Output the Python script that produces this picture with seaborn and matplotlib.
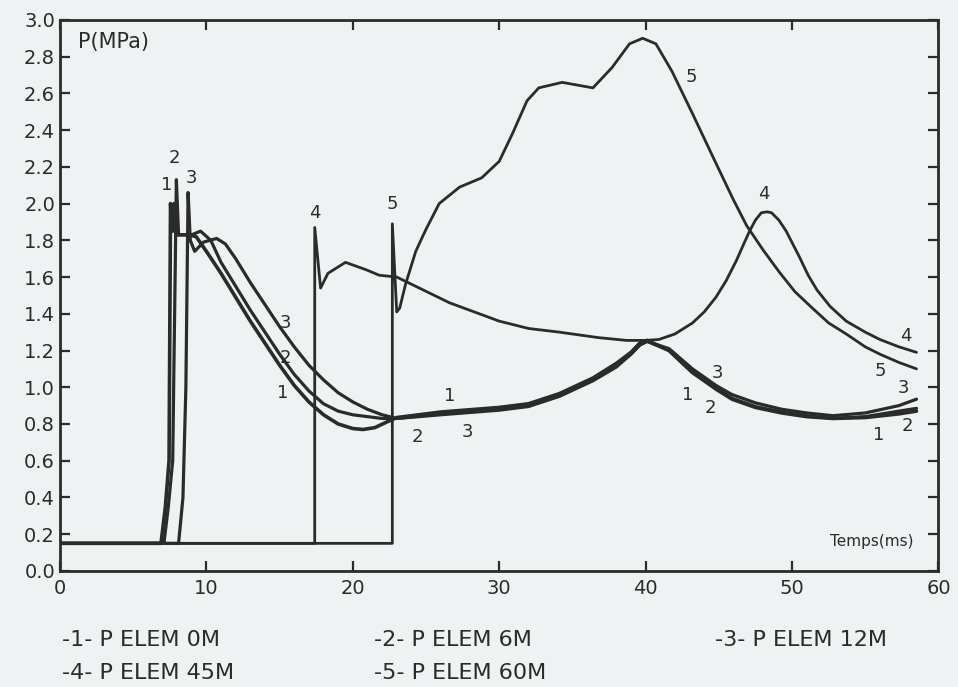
import pandas as pd
import seaborn as sns
import matplotlib.pyplot as plt

# courbes de pression (temps en ms, P en MPa)
t1 = [0, 6.9, 7.2, 7.45, 7.55, 7.7, 7.8, 7.95, 8.8, 9.3, 10, 11, 12, 13, 14, 15, 16, 17, 18, 19, 20,
      20.7, 21.5, 22.3, 23, 26, 30, 32, 34.1, 36.4, 38, 39, 39.6, 40.1, 41.6, 43.2, 44.8, 45.9, 47.5, 49.3,
      51, 52.8, 55, 57.3, 58.5]
p1 = [0.15, 0.15, 0.35, 0.6, 2.0, 1.85, 2.0, 1.83, 1.83, 1.82, 1.74, 1.62, 1.49, 1.36, 1.24, 1.12, 1.01, 0.92, 0.85, 0.80, 0.775,
      0.77, 0.78, 0.81, 0.835, 0.865, 0.89, 0.91, 0.965, 1.05, 1.13, 1.19, 1.24, 1.255, 1.2, 1.08, 0.99, 0.935, 0.89, 0.86,
      0.84, 0.83, 0.835, 0.855, 0.87]

t2 = [0, 7.1, 7.4, 7.7, 7.95, 8.1, 9.0, 9.6, 10.3, 11, 12, 13, 14, 15, 16, 17, 18, 19, 20, 21, 22,
      23, 26, 30, 32, 34.1, 36.4, 38, 39, 39.6, 40.1, 41.6, 43.2, 44.8, 45.9, 47.5, 49.3, 51, 52.8, 55, 57.3, 58.5]
p2 = [0.15, 0.15, 0.35, 0.6, 2.13, 1.83, 1.83, 1.85, 1.80, 1.68, 1.55, 1.42, 1.30, 1.18, 1.07, 0.98, 0.91, 0.87, 0.85, 0.84, 0.83,
      0.83, 0.855, 0.88, 0.9, 0.955, 1.04, 1.12, 1.18, 1.23, 1.25, 1.2, 1.08, 0.995, 0.94, 0.895, 0.865, 0.845, 0.83, 0.84, 0.87, 0.885]

t3 = [0, 8.1, 8.4, 8.6, 8.75, 8.9, 9.2, 9.8, 10.7, 11.3, 12, 13, 14, 15, 16, 17, 18, 19, 20, 21, 22,
      23, 26, 30, 32, 34.1, 36.4, 38, 39, 39.6, 40.1, 41.6, 43.2, 44.8, 45.9, 47.5, 49.3, 51, 52.8, 55, 57.3, 58.5]
p3 = [0.15, 0.15, 0.4, 1.0, 2.06, 1.8, 1.74, 1.79, 1.81, 1.78, 1.70, 1.57, 1.45, 1.33, 1.22, 1.12, 1.04, 0.97, 0.92, 0.88, 0.85,
      0.83, 0.85, 0.875, 0.895, 0.95, 1.035, 1.11, 1.18, 1.23, 1.25, 1.21, 1.1, 1.01, 0.96, 0.915, 0.88, 0.86, 0.845, 0.86, 0.9, 0.935]

t4 = [0, 17.4, 17.4, 17.8, 18.3, 19.5, 20.9, 21.8, 23.0, 23.9, 26.6, 30, 32, 34.1, 36.8, 38.7, 40, 40.9, 42, 43.2,
      44, 44.8, 45.5, 46.2, 46.7, 47.1, 47.5, 47.9, 48.3, 48.6, 49.1, 49.6, 50.5, 51.1, 51.7, 52.6, 53.7, 55, 56, 57.3, 58.5]
p4 = [0.15, 0.15, 1.87, 1.54, 1.62, 1.68, 1.64, 1.61, 1.60, 1.565, 1.46, 1.36, 1.32, 1.30, 1.27, 1.255, 1.255, 1.26, 1.29, 1.35,
      1.41, 1.49, 1.58, 1.69, 1.78, 1.85, 1.91, 1.95, 1.955, 1.95, 1.91, 1.85, 1.71, 1.61, 1.53, 1.44, 1.36, 1.30, 1.26, 1.22, 1.19]

t5 = [0, 22.7, 22.7, 23.0, 23.2, 23.6, 24.3, 25.0, 25.9, 27.3, 28.8, 30, 30.9, 31.9, 32.7, 34.3, 36.4, 37.7, 38.9, 39.8,
      40.7, 41.8, 43.2, 44.8, 46.0, 46.9, 48, 49.1, 50.2, 51.4, 52.5, 53.7, 55, 56, 57.3, 58.5]
p5 = [0.15, 0.15, 1.89, 1.41, 1.43, 1.56, 1.74, 1.86, 2.0, 2.09, 2.14, 2.23, 2.38, 2.56, 2.63, 2.66, 2.63, 2.74, 2.87, 2.90,
      2.87, 2.72, 2.49, 2.22, 2.02, 1.88, 1.75, 1.63, 1.52, 1.43, 1.35, 1.29, 1.22, 1.18, 1.135, 1.10]

# étiquettes des courbes sur le graphique
lab_txt = ["1", "2", "3", "4", "5", "3", "2", "1", "1", "2", "3", "5", "4",
           "3", "1", "2", "4", "5", "3", "2", "1"]
lab_x = [7.3, 7.8, 9.0, 17.4, 22.7, 15.4, 15.4, 15.2, 26.6, 24.4, 27.8, 43.1, 48.1,
         44.9, 42.9, 44.4, 57.8, 56.0, 57.6, 57.9, 55.9]
lab_y = [2.10, 2.25, 2.14, 1.95, 2.00, 1.35, 1.16, 0.97, 0.95, 0.73, 0.755, 2.69, 2.05,
         1.08, 0.96, 0.885, 1.28, 1.09, 0.995, 0.79, 0.74]

legende = ["-1- P ELEM 0M", "-2- P ELEM 6M", "-3- P ELEM 12M",
           "-4- P ELEM 45M", "-5- P ELEM 60M"]

sns.set_style("ticks")
plt.rcParams['font.family'] = ['DejaVu Sans']
ink = "#2b2b2b"
bg = "#eff2f3"

fig = plt.figure(figsize=(9.58, 6.87), dpi=100, facecolor=bg)
ax = fig.add_axes([0.0626, 0.169, 0.917, 0.802], facecolor=bg)

courbes = [(t1, p1, 2.6), (t2, p2, 2.3), (t3, p3, 2.3), (t4, p4, 2.0), (t5, p5, 2.0)]
for t, p, lw in courbes:
    df = pd.DataFrame({"t": t, "p": p})
    sns.lineplot(data=df, x="t", y="p", sort=False, estimator=None, color=ink,
                 linewidth=lw, ax=ax)

for s, x, y in zip(lab_txt, lab_x, lab_y):
    ax.text(x, y, s, fontsize=13, color=ink, ha="center", va="center")

ax.text(1.2, 2.88, "P(MPa)", fontsize=15, color=ink, ha="left", va="center")
ax.text(58.3, 0.16, "Temps(ms)", fontsize=11, color=ink, ha="right", va="center")

ax.set_xlim(0, 60)
ax.set_ylim(0, 3.0)
ax.set_xticks(range(0, 61, 10))
ax.set_yticks([i * 0.2 for i in range(16)])
ax.set_yticklabels([f"{i * 0.2:.1f}" for i in range(16)])
ax.set_xlabel("")
ax.set_ylabel("")
ax.tick_params(axis="both", direction="in", length=7, width=1.6, color=ink,
               labelcolor=ink, labelsize=14, top=True, right=True)
ax.tick_params(axis="x", pad=6)
for sp in ax.spines.values():
    sp.set_linewidth(2)
    sp.set_color(ink)

pos_x = [0.065, 0.39, 0.746, 0.065, 0.39]
pos_y = [0.068, 0.068, 0.068, 0.021, 0.021]
for s, x, y in zip(legende, pos_x, pos_y):
    fig.text(x, y, s, fontsize=16, color=ink, ha="left", va="center")

fig.savefig("out.png", dpi=100, facecolor=bg)
